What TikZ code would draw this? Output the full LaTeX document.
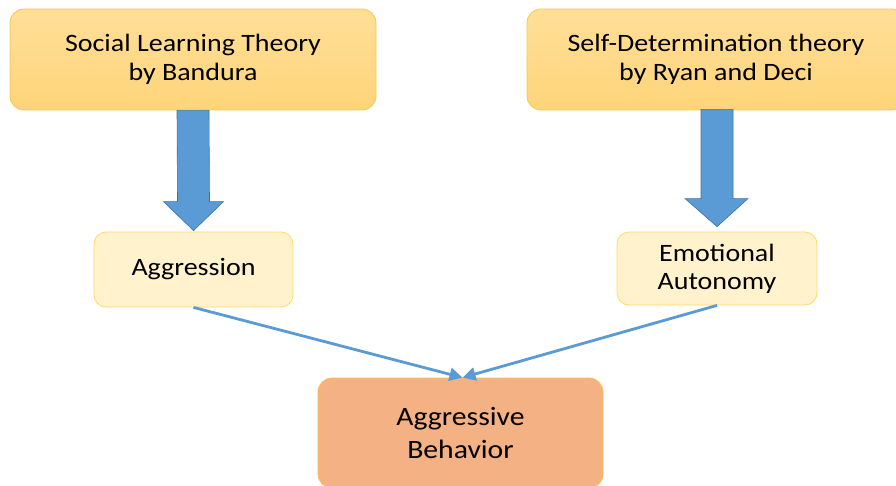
\documentclass[tikz,border=0pt]{standalone}
\usepackage{fontspec}
\setmainfont{Carlito}[FakeStretch=1.12]
\usetikzlibrary{calc,arrows.meta}
\definecolor{topA}{RGB}{255,223,152}
\definecolor{topB}{RGB}{255,212,122}
\definecolor{topline}{RGB}{249,200,72}
\definecolor{midfill}{RGB}{255,242,204}
\definecolor{midline}{RGB}{255,217,102}
\definecolor{botfill}{RGB}{244,177,131}
\definecolor{botline}{RGB}{250,192,80}
\definecolor{blue}{RGB}{91,155,213}
\definecolor{blueline}{RGB}{65,113,156}
\tikzset{
  topbox/.style={rounded corners=14pt, top color=topA, bottom color=topB, draw=topline, line width=0.8pt, align=center, font=\fontsize{25}{29}\selectfont, inner sep=0pt},
  midbox/.style={rounded corners=12pt, fill=midfill, draw=midline, line width=0.8pt, align=center, font=\fontsize{25}{28}\selectfont, inner sep=0pt},
  botbox/.style={rounded corners=14pt, fill=botfill, draw=botline, line width=0.8pt, align=center, font=\fontsize{26.5}{33}\selectfont, inner sep=0pt},
  blockarrow/.style={fill=blue, draw=blueline, line width=0.6pt},
  link/.style={draw=blue, line width=2.8pt, -{Triangle[length=13pt,width=13pt]}}
}
\begin{document}
\begin{tikzpicture}[x=1pt,y=-1pt]
\useasboundingbox (0,0) rectangle (896,486);
\clip (0,0) rectangle (896,486);
\node[topbox, minimum width=366pt, minimum height=101pt] (b1) at (193,59.5) {Social Learning Theory\\by Bandura};
\node[topbox, minimum width=378pt, minimum height=101pt] (b2) at (716,59.5) {Self-Determination theory\\by Ryan and Deci};
\node[midbox, minimum width=199pt, minimum height=75pt] (agg) at (193.5,269.5) {Aggression};
\node[midbox, minimum width=200pt, minimum height=73pt] (emo) at (717,268.5) {Emotional\\Autonomy};
\node[botbox, minimum width=285pt, minimum height=110pt] (beh) at (460.5,433) {Aggressive\\Behavior};
% block arrows
\draw[blockarrow] ($(b1.south)+(-16,0)$) -- ($(b1.south)+(16,0)$) -- ($(agg.north)+(16,-30)$) -- ($(agg.north)+(30,-30)$) -- ($(agg.north)+(0,-1)$) -- ($(agg.north)+(-30,-30)$) -- ($(agg.north)+(-16,-30)$) -- cycle;
\draw[blockarrow] ($(b2.south)+(-15,-1)$) -- ($(b2.south)+(17,-1)$) -- ($(emo.north)+(16,-33)$) -- ($(emo.north)+(31,-33)$) -- ($(emo.north)+(0,-5)$) -- ($(emo.north)+(-32,-33)$) -- ($(emo.north)+(-16,-33)$) -- cycle;
% links
\draw[link] (agg.south) -- ($(beh.north)+(2,0)$);
\draw[link] (emo.south) -- ($(beh.north)+(2,0)$);
\end{tikzpicture}
\end{document}
